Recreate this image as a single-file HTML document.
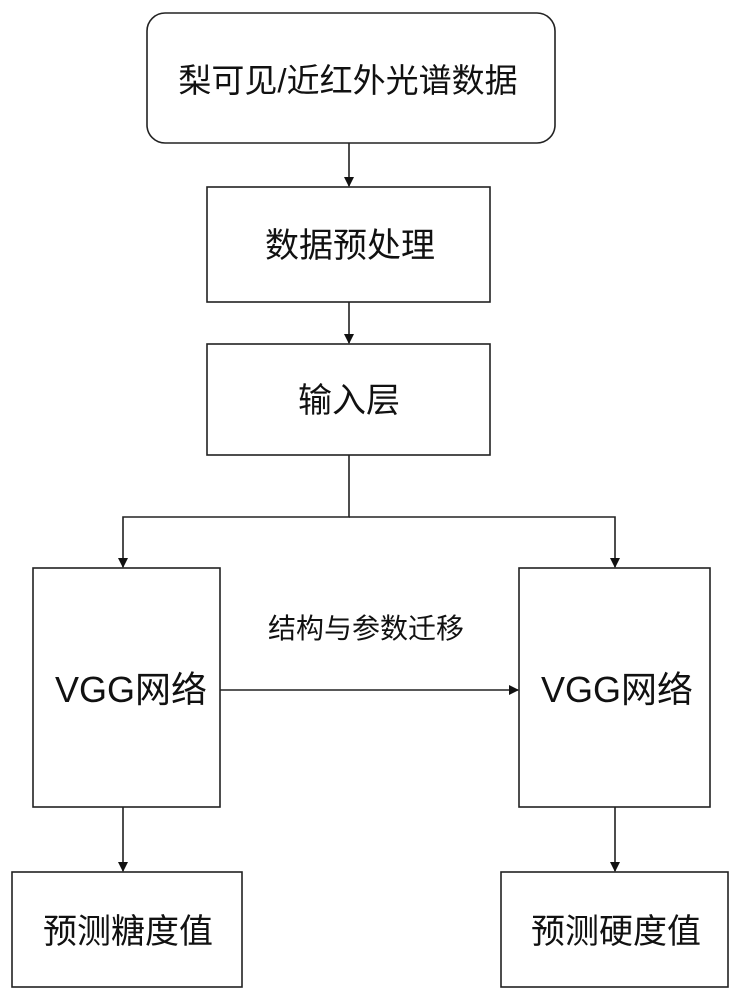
<!DOCTYPE html>
<html><head><meta charset="utf-8"><style>
body{margin:0;background:#fff;}
svg text{font-family:"Liberation Sans","Noto Sans CJK SC",sans-serif;fill:#111;}
</style></head><body>
<svg width="739" height="1000" viewBox="0 0 739 1000" xmlns="http://www.w3.org/2000/svg">
<defs><marker id="a" markerWidth="10" markerHeight="10" refX="9" refY="5" orient="auto" markerUnits="userSpaceOnUse"><path d="M0,0 L10,5 L0,10 z" fill="#111"/></marker></defs>
<g fill="none" stroke="#222" stroke-width="1.6">
<rect x="147" y="13" width="408" height="130" rx="18"/>
<rect x="207" y="187" width="283" height="115"/>
<rect x="207" y="344" width="283" height="111"/>
<rect x="33" y="568" width="187" height="239"/>
<rect x="519" y="568" width="191" height="239"/>
<rect x="12" y="872" width="230" height="115"/>
<rect x="501" y="872" width="227" height="115"/>
<line x1="349" y1="143" x2="349" y2="186" marker-end="url(#a)"/>
<line x1="349" y1="302" x2="349" y2="343" marker-end="url(#a)"/>
<polyline points="349,455 349,517 123,517 123,567" marker-end="url(#a)"/>
<polyline points="349,517 615,517 615,567" marker-end="url(#a)"/>
<line x1="220" y1="690" x2="518" y2="690" marker-end="url(#a)"/>
<line x1="123" y1="807" x2="123" y2="871" marker-end="url(#a)"/>
<line x1="615" y1="807" x2="615" y2="871" marker-end="url(#a)"/>
</g>
<g text-anchor="middle" font-size="34">
<text x="348" y="92" font-size="33">梨可见/近红外光谱数据</text>
<text x="350" y="257">数据预处理</text>
<text x="349" y="412">输入层</text>
<text x="131" y="702" font-size="36">VGG网络</text>
<text x="617" y="702" font-size="36">VGG网络</text>
<text x="128" y="943">预测糖度值</text>
<text x="616" y="943">预测硬度值</text>
<text x="366" y="638" font-size="28">结构与参数迁移</text>
</g>
</svg>
</body></html>
